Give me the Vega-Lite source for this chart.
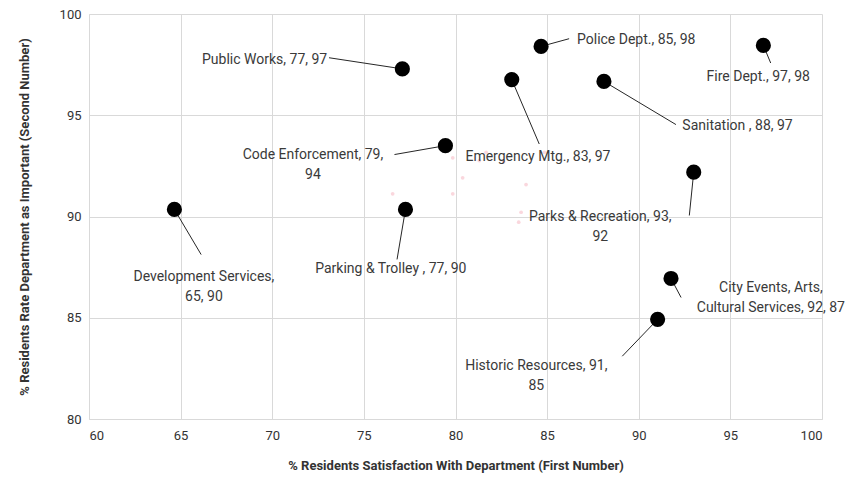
{
  "$schema": "https://vega.github.io/schema/vega-lite/v6.json",
  "width": 733,
  "height": 405,
  "autosize": {"type": "none"},
  "padding": {"left": 89, "top": 14, "right": 34, "bottom": 71},
  "background": "white",
  "config": {
    "view": {"stroke": null},
    "font": "Roboto",
    "axis": {
      "gridColor": "#d9d9d9",
      "domainColor": "#d9d9d9",
      "ticks": false,
      "labelColor": "#333333",
      "labelFontSize": 13,
      "titleColor": "#333333",
      "titleFontSize": 13,
      "titleFontWeight": "bold"
    }
  },
  "datasets": {
    "depts": [
      {"name": "Public Works", "label": "Public Works, 77, 97", "x": 77.1, "y": 97.29, "lx": 73.0, "ly": 97.75, "ex": 73.1, "ey": 97.84},
      {"name": "Police Dept.", "label": "Police Dept., 85, 98", "x": 84.67, "y": 98.4, "lx": 86.63, "ly": 98.73, "ex": 86.2, "ey": 98.78},
      {"name": "Fire Dept.", "label": "Fire Dept., 97, 98", "x": 96.8, "y": 98.45, "lx": 96.52, "ly": 96.91, "ex": 97.2, "ey": 97.58},
      {"name": "Emergency Mtg.", "label": "Emergency Mtg., 83, 97", "x": 83.07, "y": 96.76, "lx": 84.5, "ly": 92.94, "ex": 84.57, "ey": 93.58},
      {"name": "Sanitation", "label": "Sanitation , 88, 97", "x": 88.1, "y": 96.67, "lx": 92.38, "ly": 94.49, "ex": 92.03, "ey": 94.54},
      {"name": "Code Enforcement", "label": "Code Enforcement, 79,\n94", "x": 79.45, "y": 93.5, "lx": 72.22, "ly": 93.06, "ex": 76.67, "ey": 93.06},
      {"name": "Development Services", "label": "Development Services,\n65, 90", "x": 64.66, "y": 90.35, "lx": 66.27, "ly": 86.99, "ex": 66.12, "ey": 88.12},
      {"name": "Parking & Trolley", "label": "Parking & Trolley , 77, 90", "x": 77.27, "y": 90.35, "lx": 76.47, "ly": 87.39, "ex": 76.81, "ey": 87.88},
      {"name": "Parks & Recreation", "label": "Parks & Recreation, 93,\n92", "x": 93.0, "y": 92.19, "lx": 87.9, "ly": 90.0, "ex": 92.76, "ey": 90.05},
      {"name": "Historic Resources", "label": "Historic Resources, 91,\n85", "x": 91.03, "y": 84.92, "lx": 84.41, "ly": 82.6, "ex": 89.1, "ey": 83.1},
      {"name": "City Events", "label": "City Events, Arts,\nCultural Services, 92, 87", "x": 91.76, "y": 86.94, "lx": 97.21, "ly": 86.45, "ex": 92.31, "ey": 86.0}
    ],
    "ghost": [
      {"x": 79.85, "y": 92.9},
      {"x": 81.67, "y": 93.17},
      {"x": 81.3, "y": 92.76},
      {"x": 82.63, "y": 92.7},
      {"x": 84.85, "y": 93.17},
      {"x": 80.39, "y": 91.91},
      {"x": 83.85, "y": 91.58},
      {"x": 79.85, "y": 91.12},
      {"x": 76.57, "y": 91.12},
      {"x": 83.58, "y": 90.21},
      {"x": 83.45, "y": 89.72}
    ]
  },
  "layer": [
    {
      "data": {"name": "ghost"},
      "mark": {"type": "circle", "color": "#f3a6b4", "opacity": 0.45, "size": 14},
      "encoding": {
        "x": {"field": "x", "type": "quantitative", "scale": {"domain": [60, 100]},
          "axis": {"title": "% Residents Satisfaction With Department (First Number)", "values": [60,65,70,75,80,85,90,95,100], "labelPadding": 10, "titlePadding": 17}},
        "y": {"field": "y", "type": "quantitative", "scale": {"domain": [80, 100]},
          "axis": {"title": "% Residents Rate Department as Important (Second Number)", "values": [80,85,90,95,100], "labelPadding": 8, "titlePadding": 28}}
      }
    },
    {
      "data": {"name": "depts"},
      "mark": {"type": "rule", "color": "#262626", "strokeWidth": 1},
      "encoding": {
        "x": {"field": "x", "type": "quantitative"},
        "y": {"field": "y", "type": "quantitative"},
        "x2": {"field": "ex"},
        "y2": {"field": "ey"}
      }
    },
    {
      "data": {"name": "depts"},
      "mark": {"type": "circle", "color": "#000000", "opacity": 1, "size": 230},
      "encoding": {
        "x": {"field": "x", "type": "quantitative"},
        "y": {"field": "y", "type": "quantitative"}
      }
    },
    {
      "data": {"name": "depts"},
      "transform": [{"filter": {"field": "name", "oneOf": ["Public Works"]}}],
      "mark": {"type": "text", "align": "right", "baseline": "middle", "fontSize": 14, "color": "#3a3a3a", "lineBreak": "\n", "lineHeight": 20},
      "encoding": {
        "x": {"field": "lx", "type": "quantitative"},
        "y": {"field": "ly", "type": "quantitative"},
        "text": {"field": "label"}
      }
    },
    {
      "data": {"name": "depts"},
      "transform": [{"filter": {"field": "name", "oneOf": ["Police Dept.", "Sanitation"]}}],
      "mark": {"type": "text", "align": "left", "baseline": "middle", "fontSize": 14, "color": "#3a3a3a", "lineBreak": "\n", "lineHeight": 20},
      "encoding": {
        "x": {"field": "lx", "type": "quantitative"},
        "y": {"field": "ly", "type": "quantitative"},
        "text": {"field": "label"}
      }
    },
    {
      "data": {"name": "depts"},
      "transform": [{"filter": {"not": {"field": "name", "oneOf": ["Public Works", "Police Dept.", "Sanitation"]}}}],
      "mark": {"type": "text", "align": "center", "baseline": "middle", "fontSize": 14, "color": "#3a3a3a", "lineBreak": "\n", "lineHeight": 20},
      "encoding": {
        "x": {"field": "lx", "type": "quantitative"},
        "y": {"field": "ly", "type": "quantitative"},
        "text": {"field": "label"}
      }
    }
  ]
}
